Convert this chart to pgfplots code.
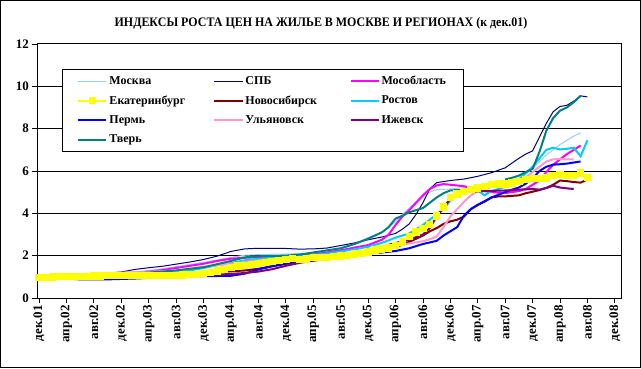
\documentclass[border=0pt]{standalone}
\usepackage{fontspec}
\setmainfont{Liberation Serif}
\usepackage{graphicx}
\usepackage{pgfplots}
\pgfplotsset{compat=1.18}
\definecolor{cMsk}{HTML}{99CCFF}
\definecolor{cSpb}{HTML}{000080}
\definecolor{cMo}{HTML}{FF00FF}
\definecolor{cEk}{HTML}{FFFF00}
\definecolor{cNsk}{HTML}{800000}
\definecolor{cRos}{HTML}{00CCFF}
\definecolor{cPer}{HTML}{0000FF}
\definecolor{cUl}{HTML}{FF99CC}
\definecolor{cIzh}{HTML}{800080}
\definecolor{cTv}{HTML}{008080}
\begin{document}
\begin{tikzpicture}[x=1bp,y=1bp]
\useasboundingbox (0,0) rectangle (641,368);
\fill[white] (0,0) rectangle (641,368);
\draw[line width=1bp] (0.5,0.5) rectangle (640.5,367.5);
\node[font=\bfseries\fontsize{13bp}{15bp}\selectfont, inner sep=0pt] at (321,345) {\scalebox{0.92}[1]{ИНДЕКСЫ РОСТА ЦЕН НА ЖИЛЬЕ В МОСКВЕ И РЕГИОНАХ (к дек.01)}};
\begin{axis}[
  at={(37bp,70bp)}, anchor=south west, scale only axis,
  width=584bp, height=254bp,
  xmin=-0.3, xmax=84.9, ymin=0, ymax=12,
  xtick={0,4,...,84},
  xticklabels={дек.01,апр.02,авг.02,дек.02,апр.03,авг.03,дек.03,апр.04,авг.04,дек.04,апр.05,авг.05,дек.05,апр.06,авг.06,дек.06,апр.07,авг.07,дек.07,апр.08,авг.08,дек.08},
  ytick={0,2,...,12},
  xtick pos=left, ytick pos=left,
  tick align=outside, major tick length=5bp,
  tick style={black, line width=0.8bp},
  axis line style={black, line width=1bp},
  ymajorgrids, major grid style={black, line width=1bp},
  ticklabel style={font=\bfseries\fontsize{13bp}{15bp}\selectfont},
  xticklabel style={rotate=90, anchor=east, inner sep=2bp},
  yticklabel style={inner sep=3bp},
  /pgf/number format/assume math mode=true,
  unbounded coords=jump,
  legend columns=3,
  legend cell align=left,
  legend style={at={(0.0428,0.9016)}, anchor=north west, draw=black, line width=1bp, fill=white,
    font=\bfseries\fontsize{12bp}{14bp}\selectfont, inner xsep=15bp, inner ysep=2bp,
    row sep=0pt, column sep=0pt,
    nodes={inner xsep=2bp, inner ysep=0pt, minimum height=19.5bp}},
  legend image code/.code={\draw[mark repeat=2,mark phase=2,#1] plot coordinates {(0bp,0bp) (14bp,0bp) (28bp,0bp)};},
]
% Москва
\addplot[color=cMsk, line width=1bp] coordinates {
(0,1.0) (2,1.02) (4,1.05) (6,1.08) (8,1.1) (10,1.13) (12,1.17) (14,1.22) (16,1.3) (18,1.38) (20,1.48) (22,1.58) (24,1.68) (26,1.8) (28,1.92) (30,2.02) (32,2.05) (34,2.07) (36,2.08) (38,2.1) (40,2.12) (42,2.16) (44,2.3) (46,2.55) (48,2.85) (50,3.1) (52,3.6) (53,3.95) (54,4.25) (55,4.55) (56,4.8) (57,5.0) (58,5.12) (60,5.15) (62,5.22) (64,5.3) (66,5.4) (68,5.5) (70,5.6) (71,5.85) (72,6.1) (73,6.45) (74,6.75) (75,7.0) (76,7.25) (77,7.45) (78,7.65) (79,7.8)};
\addlegendentry{\makebox[102bp][l]{Москва}}
% СПБ
\addplot[color=cSpb, line width=1bp] coordinates {
(0,1.0) (2,1.03) (4,1.05) (6,1.08) (8,1.12) (10,1.17) (12,1.23) (14,1.35) (16,1.43) (18,1.5) (20,1.6) (22,1.7) (24,1.82) (26,1.98) (28,2.2) (30,2.32) (32,2.35) (34,2.35) (36,2.34) (38,2.31) (40,2.32) (42,2.36) (44,2.48) (46,2.6) (48,2.75) (50,2.88) (52,3.05) (53,3.25) (54,3.5) (55,3.95) (56,4.5) (57,5.15) (58,5.45) (59,5.5) (60,5.55) (62,5.62) (64,5.75) (66,5.92) (68,6.15) (70,6.6) (71,6.8) (72,6.95) (73,7.6) (74,8.25) (75,8.8) (76,9.05) (77,9.1) (78,9.3) (79,9.55) (80,9.5)};
\addlegendentry{\makebox[102bp][l]{СПБ}}
% Мособласть
\addplot[color=cMo, line width=2bp] coordinates {
(0,1.0) (4,1.03) (8,1.07) (12,1.12) (16,1.25) (18,1.32) (20,1.42) (22,1.52) (24,1.62) (26,1.75) (28,1.86) (30,1.9) (32,1.93) (34,1.96) (36,1.98) (38,2.0) (40,2.05) (42,2.15) (44,2.25) (46,2.38) (48,2.5) (50,2.75) (51,3.0) (52,3.45) (53,3.85) (54,4.15) (55,4.5) (56,4.85) (57,5.15) (58,5.32) (59,5.38) (60,5.35) (62,5.28) (64,5.12) (66,5.0) (68,4.96) (70,5.05) (71,5.15) (72,5.35) (73,5.55) (74,5.95) (75,6.3) (76,6.55) (77,6.8) (78,7.0) (79,7.2)};
\addlegendentry{Мособласть}
% Екатеринбург
\addplot[color=cEk, line width=2bp, mark=square*, mark size=2.7bp, mark options={fill=cEk, draw=cEk}] coordinates {
(0,0.96) (1,0.98) (2,1.0) (3,1.01) (4,1.02) (5,1.03) (6,1.02) (7,1.03) (8,1.04) (9,1.04) (10,1.05) (11,1.05) (12,1.05) (13,1.05) (14,1.05) (15,1.05) (16,1.05) (17,1.05) (18,1.05) (19,1.05) (20,1.06) (21,1.08) (22,1.1) (23,1.12) (24,1.15) (25,1.21) (26,1.27) (27,1.34) (28,1.43) (29,1.51) (30,1.54) (31,1.59) (32,1.64) (33,1.67) (34,1.73) (35,1.76) (36,1.82) (37,1.86) (38,1.83) (39,1.84) (40,1.9) (41,1.9) (42,1.92) (43,1.95) (44,1.98) (45,2.01) (46,2.07) (47,2.11) (48,2.17) (49,2.27) (50,2.32) (51,2.37) (52,2.48) (53,2.65) (54,2.9) (55,3.11) (56,3.28) (57,3.47) (58,3.88) (59,4.29) (60,4.75) (61,4.92) (62,5.02) (63,5.12) (64,5.2) (65,5.27) (66,5.36) (67,5.39) (68,5.39) (69,5.44) (70,5.51) (71,5.59) (72,5.64) (73,5.64) (74,5.67) (75,5.78) (76,5.83) (77,5.78) (78,5.8) (79,5.91) (80,5.7)};
\addlegendentry{\makebox[102bp][l]{Екатеринбург}}
% Новосибирск
\addplot[color=cNsk, line width=2bp] coordinates {
(0,1.0) (4,1.02) (8,1.03) (12,1.05) (16,1.07) (20,1.1) (24,1.15) (26,1.22) (28,1.26) (30,1.3) (32,1.38) (34,1.5) (36,1.62) (38,1.72) (40,1.82) (42,1.9) (44,1.98) (46,2.05) (48,2.12) (50,2.25) (52,2.4) (54,2.65) (56,2.95) (57,3.15) (58,3.3) (59,3.5) (60,3.62) (61,3.7) (62,3.85) (63,4.2) (64,4.4) (65,4.55) (66,4.75) (67,4.8) (68,4.8) (70,4.85) (71,4.95) (72,5.02) (73,5.1) (74,5.2) (75,5.35) (76,5.55) (77,5.52) (78,5.48) (79,5.45) (80,5.6)};
\addlegendentry{\makebox[102bp][l]{Новосибирск}}
% Ростов
\addplot[color=cRos, line width=2bp] coordinates {
(0,1.0) (4,1.02) (8,1.04) (12,1.07) (16,1.12) (20,1.2) (22,1.3) (24,1.42) (26,1.55) (28,1.65) (30,1.78) (32,1.85) (34,1.9) (36,1.95) (38,1.98) (40,2.03) (42,2.1) (44,2.2) (46,2.3) (48,2.42) (50,2.6) (52,2.85) (54,3.05) (56,3.45) (57,3.7) (58,3.95) (59,4.2) (60,4.6) (61,4.9) (62,5.05) (63,5.12) (64,5.1) (65,4.85) (66,5.05) (67,5.15) (68,5.25) (69,5.35) (70,5.6) (71,5.9) (72,6.2) (73,6.6) (74,7.0) (75,7.1) (76,7.02) (77,7.05) (78,7.1) (79,6.7) (80,7.45)};
\addlegendentry{Ростов}
% Пермь
\addplot[color=cPer, line width=2bp] coordinates {
(0,1.0) (2,0.97) (4,0.92) (6,0.88) (8,0.88) (10,0.88) (12,0.9) (14,0.92) (16,0.95) (18,0.98) (20,1.0) (22,1.02) (24,1.03) (26,1.04) (28,1.05) (30,1.15) (32,1.35) (34,1.5) (36,1.62) (38,1.75) (40,1.82) (42,1.88) (44,1.95) (46,2.0) (48,2.1) (50,2.15) (52,2.22) (54,2.35) (56,2.55) (58,2.7) (59,2.95) (60,3.15) (61,3.35) (62,3.9) (63,4.2) (64,4.4) (66,4.75) (68,5.0) (69,5.12) (70,5.22) (71,5.4) (72,5.65) (73,6.0) (74,6.2) (75,6.3) (76,6.32) (77,6.35) (78,6.4) (79,6.45)};
\addlegendentry{\makebox[102bp][l]{Пермь}}
% Ульяновск
\addplot[color=cUl, line width=2bp] coordinates {
(0,1.05) (4,1.1) (8,1.15) (12,1.2) (16,1.24) (20,1.3) (22,1.38) (24,1.48) (26,1.55) (28,1.62) (30,1.7) (32,1.78) (34,1.85) (36,1.9) (38,1.92) (40,1.95) (42,2.0) (44,2.05) (46,2.1) (48,2.2) (50,2.3) (52,2.45) (54,2.58) (56,2.68) (57,2.78) (58,2.9) (59,3.35) (60,3.85) (61,4.2) (62,4.55) (63,4.85) (64,5.05) (65,5.15) (66,5.25) (68,5.35) (70,5.55) (71,5.7) (72,5.95) (73,6.2) (74,6.45) (75,6.55) (76,6.57) (77,6.55) (78,6.55)};
\addlegendentry{\makebox[102bp][l]{Ульяновск}}
% Ижевск
\addplot[color=cIzh, line width=2bp] coordinates {
(0,1.0) (4,1.0) (8,1.02) (12,1.04) (16,1.05) (20,1.06) (24,1.08) (26,1.1) (28,1.14) (30,1.18) (32,1.25) (34,1.36) (36,1.52) (38,1.66) (40,1.76) (42,1.85) (44,1.95) (46,2.1) (48,2.25) (50,2.42) (52,2.6) (54,2.75) (56,3.0) (57,3.3) (58,3.85) (59,4.25) (60,4.7) (61,4.9) (62,5.0) (64,5.04) (66,5.06) (68,5.08) (70,5.12) (72,5.15) (73,5.12) (74,5.2) (75,5.3) (76,5.22) (77,5.18) (78,5.15)};
\addlegendentry{Ижевск}
% Тверь
\addplot[color=cTv, line width=2bp] coordinates {
(0,1.05) (2,1.1) (4,1.13) (6,1.12) (8,1.12) (12,1.15) (16,1.2) (20,1.3) (22,1.38) (24,1.45) (26,1.6) (28,1.75) (30,1.92) (32,1.97) (34,1.99) (36,2.0) (38,2.05) (40,2.15) (42,2.25) (44,2.35) (46,2.55) (48,2.8) (50,3.1) (51,3.35) (52,3.75) (53,3.88) (54,4.05) (55,4.15) (56,4.25) (57,4.5) (58,4.75) (59,4.95) (60,5.08) (61,5.1) (62,5.1) (63,nan) (68,5.6) (69,5.68) (70,5.78) (71,5.95) (72,6.1) (73,6.9) (74,7.9) (75,8.5) (76,8.85) (77,9.0) (78,9.25) (79,9.55)};
\addlegendentry{\makebox[102bp][l]{Тверь}}
\end{axis}
\end{tikzpicture}
\end{document}
